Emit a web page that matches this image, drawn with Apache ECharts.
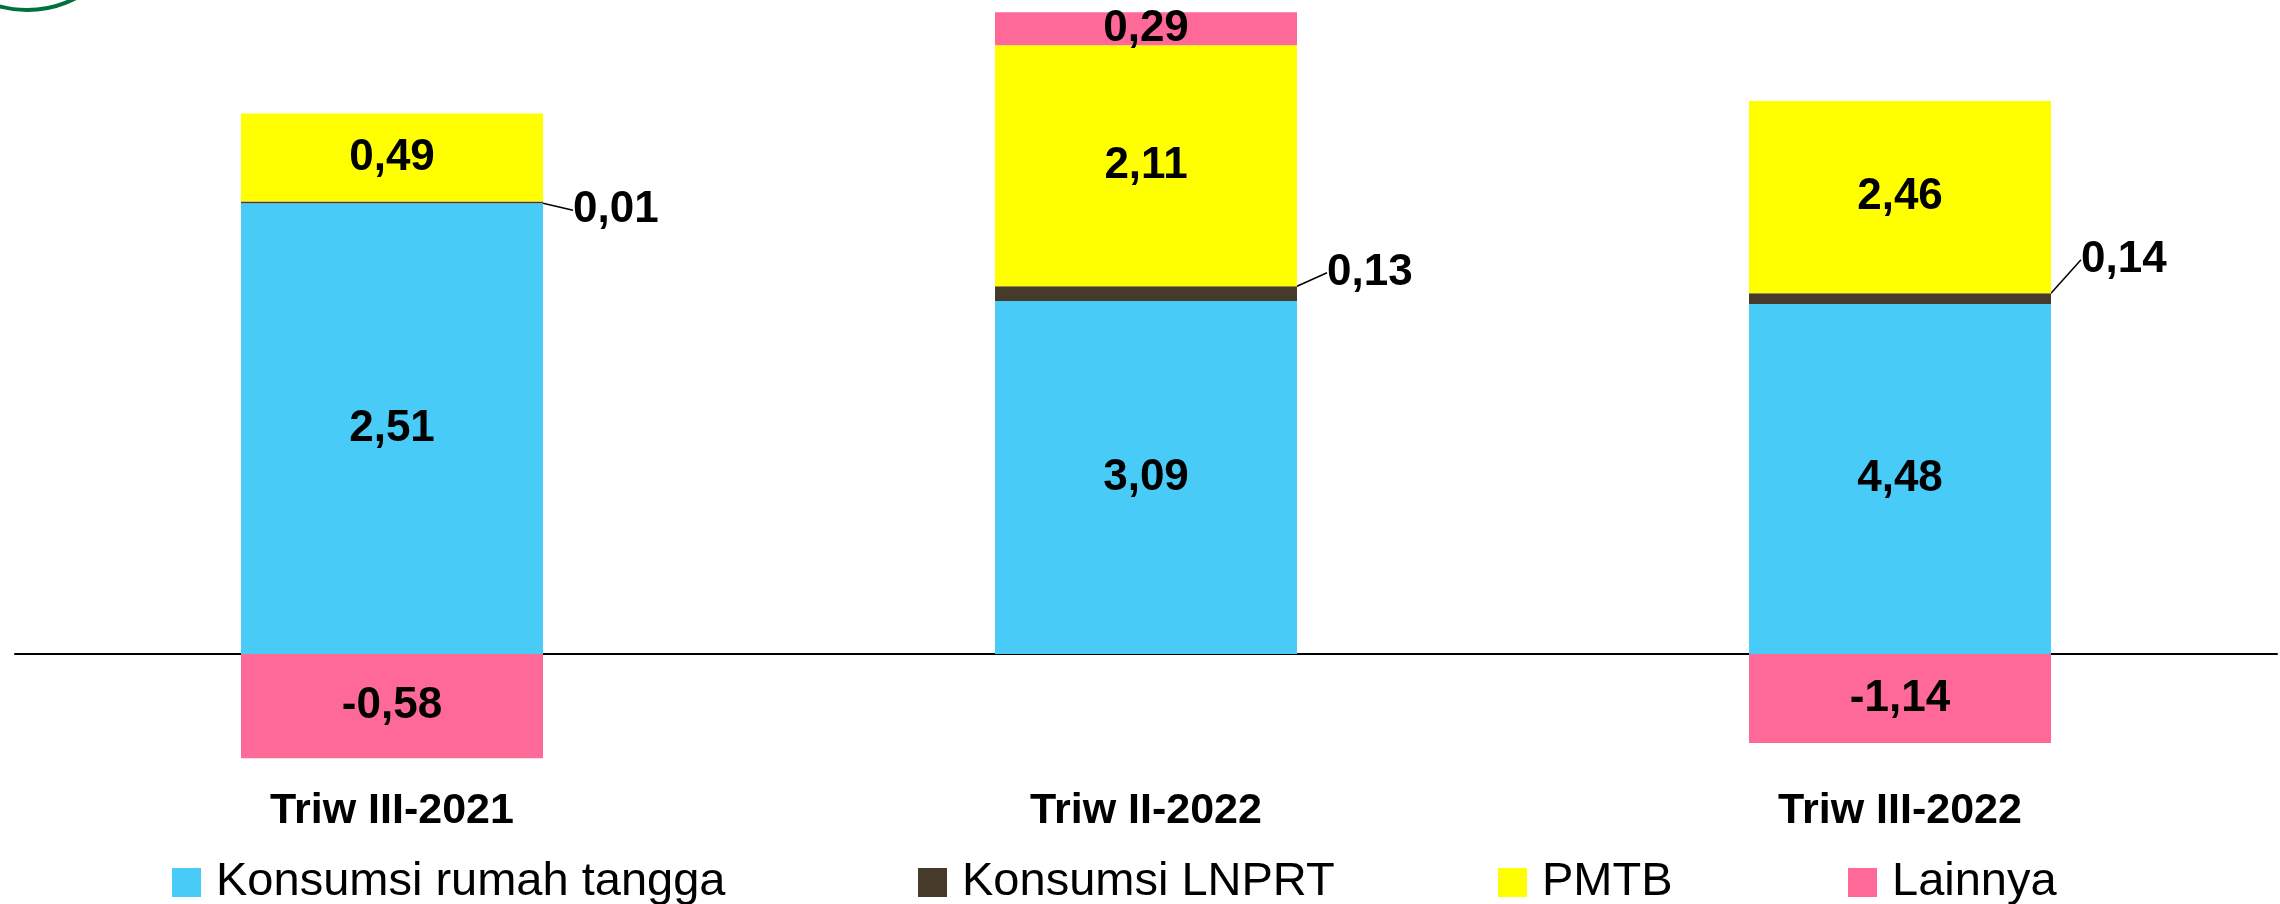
<!DOCTYPE html>
<html>
<head>
<meta charset="utf-8">
<script src="https://cdn.jsdelivr.net/npm/echarts@6/dist/echarts.min.js"></script>
<style>
  html, body { margin: 0; padding: 0; background: #fff; }
  #chart { width: 2280px; height: 904px; }
</style>
</head>
<body>
<div id="chart"></div>
<script>
// data
const categories = ['Triw III-2021', 'Triw II-2022', 'Triw III-2022']
const rumahTangga = [2.51, 3.09, 4.48]
const lnprt = [0.01, 0.13, 0.14]
const pmtb = [0.49, 2.11, 2.46]
const lainnya = [-0.58, 0.29, -1.14]
const seriesNames = ['Konsumsi rumah tangga', 'Konsumsi LNPRT', 'PMTB', 'Lainnya']

// look & layout (each column in the original has its own vertical scale)
const colors = ['#48CBF6', '#463B2A', '#FFFF00', '#FF6997']
const zeroY = 654
const gridTop = 0
const gridBottomY = 776
const colLeft = 15
const colWidth = 754
const pxPerUnit = [179.6, 114.2, 78.1]
const legendLeft = [167, 913, 1493, 1843]
const lnprtShift = [8, -21, -39]
const FONT = '"Liberation Sans", Arial, sans-serif'

const fmt = v => v.toFixed(2).replace('.', ',')
const values = [rumahTangga, lnprt, pmtb, lainnya]

const grid = []
const xAxis = []
const yAxis = []
const series = []

categories.forEach((cat, i) => {
  grid.push({
    left: colLeft + colWidth * i,
    width: colWidth,
    top: gridTop,
    height: gridBottomY - gridTop,
    containLabel: false,
    outerBoundsMode: 'none'
  })
  xAxis.push({
    type: 'category',
    gridIndex: i,
    data: [cat],
    axisLine: { onZero: true, lineStyle: { color: '#000', width: 2 } },
    axisTick: { show: false },
    axisLabel: { margin: 14, fontSize: 43, fontWeight: 'bold', color: '#000', fontFamily: FONT }
  })
  yAxis.push({
    type: 'value',
    gridIndex: i,
    show: false,
    min: -(gridBottomY - zeroY) / pxPerUnit[i],
    max: (zeroY - gridTop) / pxPerUnit[i],
    splitLine: { show: false }
  })
  seriesNames.forEach((name, k) => {
    const s = {
      name,
      type: 'bar',
      xAxisIndex: i,
      yAxisIndex: i,
      stack: 'col' + i,
      barWidth: 302,
      data: [values[k][i]],
      itemStyle: { color: colors[k] },
      label: {
        show: true,
        position: 'inside',
        formatter: p => fmt(p.value),
        fontSize: 44,
        fontWeight: 'bold',
        color: '#000',
        fontFamily: FONT
      }
    }
    if (k === 1) {
      s.label.position = 'right'
      s.label.distance = 30
      s.labelLayout = { dy: lnprtShift[i] }
      s.labelLine = { show: true, lineStyle: { color: '#000', width: 1.5 } }
    }
    series.push(s)
  })
})

const legend = seriesNames.map((n, k) => ({
  data: [n],
  left: legendLeft[k],
  top: 854,
  icon: 'rect',
  itemWidth: 29,
  itemHeight: 29,
  selectedMode: false,
  textStyle: { fontSize: 47, color: '#000', fontFamily: FONT, padding: [0, 0, 0, 10] }
}))

const chart = echarts.init(document.getElementById('chart'))
chart.setOption({
  animation: false,
  backgroundColor: '#fff',
  grid,
  xAxis,
  yAxis,
  legend,
  series,
  graphic: [{
    type: 'circle',
    shape: { cx: 27, cy: -96, r: 106 },
    style: { fill: 'none', stroke: '#00703C', lineWidth: 4 }
  }]
})
</script>
</body>
</html>
